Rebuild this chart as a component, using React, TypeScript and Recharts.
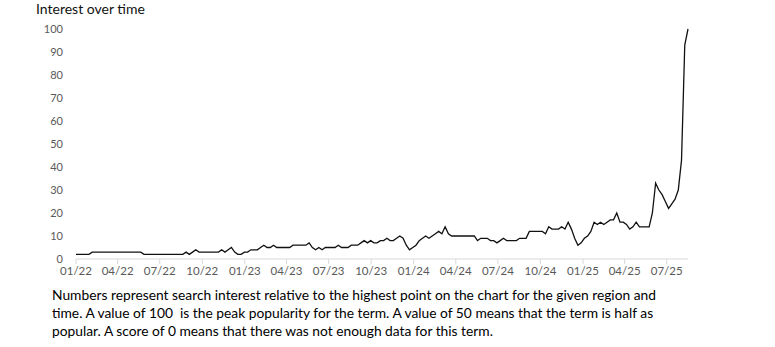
import { LineChart, Line, XAxis, YAxis } from 'recharts';

// weekly search interest, first week = start of Jan 2022
const interest = [
  2, 2, 2, 2, 2, 3, 3, 3, 3, 3,
  3, 3, 3, 3, 3, 3, 3, 3, 3, 3,
  3, 2, 2, 2, 2, 2, 2, 2, 2, 2,
  2, 2, 2, 2, 3, 2, 3, 4, 3, 3,
  3, 3, 3, 3, 3, 4, 3, 4, 5, 3,
  2, 2, 3, 3, 4, 4, 4, 5, 6, 5,
  5, 6, 5, 5, 5, 5, 5, 6, 6, 6,
  6, 6, 7, 5, 4, 5, 4, 5, 5, 5,
  5, 6, 5, 5, 5, 6, 6, 6, 7, 8,
  7, 8, 7, 7, 8, 8, 9, 8, 8, 9,
  10, 9, 6, 4, 5, 6, 8, 9, 10, 9,
  10, 11, 12, 11, 14, 11, 10, 10, 10, 10,
  10, 10, 10, 10, 8, 9, 9, 9, 8, 8,
  7, 8, 9, 8, 8, 8, 8, 9, 9, 9,
  12, 12, 12, 12, 12, 11, 14, 13, 13, 13,
  14, 13, 16, 13, 9, 6, 7, 9, 10, 12,
  16, 15, 16, 15, 16, 17, 17, 20, 16, 16,
  15, 13, 14, 16, 14, 14, 14, 14, 20, 33,
  30, 28, 25, 22, 24, 26, 30, 43, 93, 100,
];

const quarterLabels = [
  '01/22', '04/22', '07/22', '10/22',
  '01/23', '04/23', '07/23', '10/23',
  '01/24', '04/24', '07/24', '10/24',
  '01/25', '04/25', '07/25',
];

const yTicks = [0, 10, 20, 30, 40, 50, 60, 70, 80, 90, 100];

const title = 'Interest over time';
const captionLines = [
  'Numbers represent search interest relative to the highest point on the chart for the given region and',
  'time. A value of 100  is the peak popularity for the term. A value of 50 means that the term is half as',
  'popular. A score of 0 means that there was not enough data for this term.',
];

const START = Date.UTC(2022, 0, 1);
const WEEK_MS = 7 * 86400000;

// position of a quarter label in weeks from the first data point
const weekOf = (label: string) => {
  const [m, y] = label.split('/').map(Number);
  return (Date.UTC(2000 + y, m - 1, 1) - START) / WEEK_MS;
};

const data = interest.map((v, i) => ({ week: i, value: v }));
const xTicks = quarterLabels.map(weekOf);
const labelFor = (t: number) => {
  const idx = xTicks.findIndex((x) => Math.abs(x - t) < 0.01);
  return idx >= 0 ? quarterLabels[idx] : '';
};

const FONT = "Lato, 'Liberation Sans', sans-serif";

export default function App() {
  return (
    <div style={{ position: 'absolute', left: 0, top: 0, width: 775, height: 347, background: '#fff', fontFamily: FONT }}>
      <div style={{ position: 'absolute', left: 36, top: 0, fontSize: 14, color: '#111', whiteSpace: 'nowrap' }}>
        {title}
      </div>
      <div style={{ position: 'absolute', left: 0, top: 0 }}>
        <LineChart width={775} height={290} data={data} margin={{ top: 29, right: 87, bottom: 11, left: 0 }}>
          <XAxis
            dataKey="week"
            type="number"
            domain={[0, interest.length - 1]}
            ticks={xTicks}
            tickFormatter={labelFor}
            interval={0}
            height={20}
            stroke="#d9d9d9"
            tickSize={5}
            tickMargin={3}
            tick={{ fill: '#595959', fontSize: 11.5, fontFamily: FONT }}
          />
          <YAxis
            type="number"
            domain={[0, 100]}
            ticks={yTicks}
            interval={0}
            width={76}
            axisLine={false}
            tickLine={false}
            tickMargin={7}
            tick={{ fill: '#595959', fontSize: 11, fontFamily: FONT }}
          />
          <Line
            type="linear"
            dataKey="value"
            stroke="#111"
            strokeWidth={1.3}
            dot={false}
            activeDot={false}
            isAnimationActive={false}
          />
        </LineChart>
      </div>
      <div style={{ position: 'absolute', left: 52, top: 286, fontSize: 13.8, lineHeight: '18px', color: '#000' }}>
        {captionLines.map((line) => (
          <div key={line} style={{ whiteSpace: 'pre' }}>{line}</div>
        ))}
      </div>
    </div>
  );
}
